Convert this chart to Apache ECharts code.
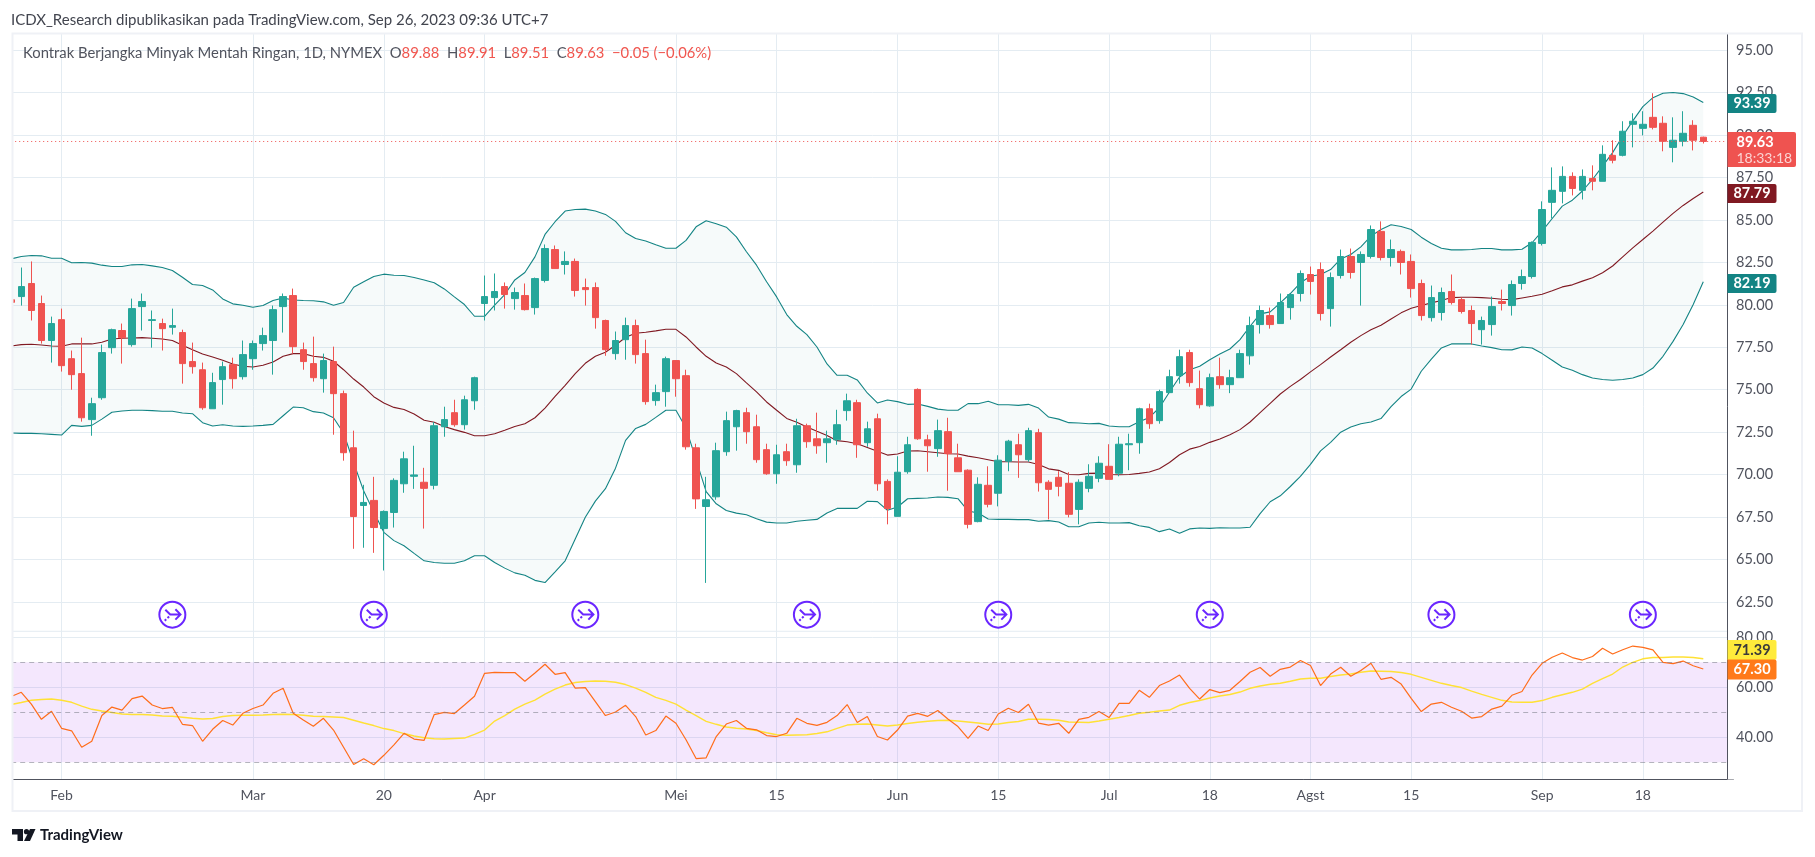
<!DOCTYPE html>
<html><head><meta charset="utf-8">
<style>html,body{margin:0;padding:0;background:#fff}#c{width:1815px;height:857px}</style>
<script src="https://cdn.jsdelivr.net/npm/echarts@6/dist/echarts.min.js"></script>
</head><body><div id="c"></div>
<script>
const categories=["01-25","01-26","01-27","01-30","01-31",
"02-01","02-02","02-03","02-06","02-07","02-08","02-09","02-10","02-13","02-14","02-15","02-16","02-17","02-21","02-22","02-23","02-24","02-27","02-28",
"03-01","03-02","03-03","03-06","03-07","03-08","03-09","03-10","03-13","03-14","03-15","03-16","03-17","03-20","03-21","03-22","03-23","03-24","03-27","03-28","03-29","03-30","03-31",
"04-03","04-04","04-05","04-06","04-10","04-11","04-12","04-13","04-14","04-17","04-18","04-19","04-20","04-21","04-24","04-25","04-26","04-27","04-28",
"05-01","05-02","05-03","05-04","05-05","05-08","05-09","05-10","05-11","05-12","05-15","05-16","05-17","05-18","05-19","05-22","05-23","05-24","05-25","05-26","05-30","05-31",
"06-01","06-02","06-05","06-06","06-07","06-08","06-09","06-12","06-13","06-14","06-15","06-16","06-20","06-21","06-22","06-23","06-26","06-27","06-28","06-29","06-30",
"07-03","07-05","07-06","07-07","07-10","07-11","07-12","07-13","07-14","07-17","07-18","07-19","07-20","07-21","07-24","07-25","07-26","07-27","07-28","07-31",
"08-01","08-02","08-03","08-04","08-07","08-08","08-09","08-10","08-11","08-14","08-15","08-16","08-17","08-18","08-21","08-22","08-23","08-24","08-25","08-28","08-29","08-30","08-31",
"09-01","09-05","09-06","09-07","09-08","09-11","09-12","09-13","09-14","09-15","09-18","09-19","09-20","09-21","09-22","09-25","09-26","+1","+2","+3"];
const tickLabels={"02-01":"Feb","03-01":"Mar","03-20":"20","04-03":"Apr","05-01":"Mei","05-15":"15","06-01":"Jun","06-15":"15","07-03":"Jul","07-18":"18","08-01":"Agst","08-15":"15","09-01":"Sep","09-18":"18"};
const eventDates=["02-16","03-17","04-18","05-18","06-15","07-18","08-18","09-18"];
const eventLevel=61.75;
const opens=[80.30,
80.49,81.26,80.08,77.90,79.13,76.83,75.95,73.24,74.53,77.48,
78.49,77.66,79.90,79.08,78.90,78.68,78.37,76.66,76.18,73.88,
75.60,76.48,75.77,76.83,77.72,77.90,79.90,80.55,77.36,76.54,
75.65,76.66,74.77,71.58,68.18,68.48,66.82,67.77,69.46,69.90,
69.55,69.37,72.82,73.65,72.94,74.35,80.08,80.43,81.08,80.37,
80.55,79.84,81.44,83.26,82.38,82.56,81.02,81.02,79.08,77.13,
77.95,78.78,77.13,74.36,74.89,76.72,75.83,71.58,68.12,68.69,
71.35,72.82,73.65,72.82,71.47,70.05,71.35,70.58,72.88,72.11,
71.88,72.05,73.77,74.24,71.88,73.29,69.60,67.54,70.17,75.02,
72.05,71.53,72.53,70.99,70.26,67.23,69.37,68.90,70.79,71.76,
70.88,72.47,69.55,69.84,69.49,67.95,69.19,69.78,70.49,70.08,
71.76,71.88,73.88,73.18,74.83,75.83,77.19,75.06,74.05,75.77,
75.30,75.71,77.00,78.84,79.37,78.90,79.84,80.67,81.79,82.08,
79.78,81.73,82.85,82.50,82.85,84.33,82.79,83.15,82.56,81.26,
79.25,79.55,80.79,80.31,79.67,78.54,78.84,80.20,79.96,81.26,
81.67,83.62,86.04,86.69,87.57,86.75,87.45,87.28,88.81,88.81,
90.64,90.40,91.05,90.70,89.28,89.64,90.58,89.88];
const closes=[80.15,
81.08,79.67,77.90,78.90,76.42,75.89,73.35,74.18,77.19,78.54,
78.07,79.78,80.20,79.13,78.60,78.78,76.54,76.36,73.94,75.42,
76.36,75.65,77.07,77.72,78.19,79.72,80.49,77.54,76.66,75.71,
76.72,74.77,71.29,67.53,68.36,66.88,67.83,69.66,70.93,69.98,
69.19,72.88,73.24,72.94,74.41,75.71,80.49,80.79,80.61,80.73,
79.72,81.55,83.32,82.14,82.56,80.85,80.90,79.25,77.36,77.90,
78.78,77.07,74.30,74.83,76.83,75.65,71.64,68.57,68.52,71.41,
73.18,73.77,72.53,70.88,70.05,71.17,70.82,72.88,71.94,71.70,
72.11,72.94,74.35,71.76,72.70,69.46,68.00,70.14,71.76,72.11,
71.70,72.59,71.23,70.17,67.07,69.43,68.25,70.85,71.97,71.17,
72.59,69.52,69.13,69.31,67.66,69.55,69.90,70.67,69.72,71.79,
71.82,73.88,73.00,74.89,75.77,76.95,75.42,74.12,75.71,75.30,
75.71,77.13,78.78,79.67,78.84,80.14,80.61,81.85,81.38,79.49,
81.61,82.85,81.91,82.97,84.44,82.79,83.26,82.50,80.96,79.37,
80.43,80.73,80.14,79.61,78.90,79.08,79.90,80.08,81.20,81.67,
83.68,85.62,86.75,87.57,86.86,87.57,87.28,88.87,88.52,90.23,
90.82,90.64,90.46,89.64,89.70,90.11,89.70,89.63];
const highs=[80.40,
82.20,82.56,80.55,79.31,79.78,77.31,78.07,74.53,77.66,78.60,
78.90,80.37,80.67,79.67,79.19,79.78,78.54,77.78,76.60,76.00,
76.66,76.89,77.90,77.90,78.66,79.96,80.67,80.96,77.78,78.13,
77.13,77.54,74.95,72.59,69.40,69.87,67.89,69.78,71.35,71.70,
70.40,73.10,74.00,74.41,74.65,75.77,81.73,81.85,81.32,81.02,
81.26,81.61,83.56,83.50,83.15,82.73,81.55,81.32,79.13,78.43,
79.25,79.13,77.95,75.30,76.95,76.72,76.18,71.82,69.87,71.88,
73.71,73.82,73.94,73.53,71.82,71.76,71.82,73.29,73.00,73.65,
72.59,73.82,74.77,74.41,73.12,73.59,69.72,71.08,72.23,75.08,
72.35,73.24,73.35,71.82,70.31,69.84,70.49,71.14,72.05,72.41,
72.76,72.70,69.67,70.20,70.14,69.72,70.61,71.08,71.79,72.23,
72.41,73.94,74.18,75.00,76.18,77.36,77.36,76.13,75.95,76.89,
76.18,77.36,79.31,79.96,79.84,80.67,80.61,82.03,82.26,82.50,
81.91,83.26,83.32,83.15,84.68,84.92,83.85,83.26,82.97,81.49,
81.14,81.02,81.79,80.43,79.96,79.31,80.49,80.90,81.44,82.08,
83.74,86.10,88.10,88.16,87.81,87.98,88.22,89.40,89.70,90.82,
91.29,91.41,92.47,91.11,91.05,91.41,90.88,89.91];
const lows=[80.05,
79.96,79.08,77.72,76.60,76.07,75.00,73.12,72.29,74.41,77.13,
76.54,77.54,78.49,77.48,77.31,78.25,75.36,75.95,73.82,73.88,
74.12,75.06,75.60,76.18,77.31,75.89,78.37,77.13,76.18,75.48,
74.83,72.35,70.82,65.63,65.69,65.39,64.35,66.88,68.93,69.16,
66.82,69.13,72.23,72.82,72.65,73.82,79.08,79.67,79.78,79.72,
79.67,79.43,81.32,82.14,81.79,80.49,79.96,78.60,77.00,76.77,
76.77,76.54,74.12,74.06,74.00,74.59,71.47,67.98,63.62,68.52,
71.11,71.41,71.82,70.70,69.99,69.46,70.52,70.11,71.58,71.23,
70.70,71.76,73.18,70.99,71.64,69.05,67.07,67.54,70.05,72.05,
70.17,71.05,69.05,70.17,66.83,67.19,68.07,68.13,70.20,69.81,
70.76,69.00,67.36,68.72,67.48,67.07,68.96,69.55,69.72,69.90,
70.26,71.23,72.70,73.00,74.83,75.36,75.18,73.90,74.00,75.06,
74.80,75.71,76.48,78.31,78.60,78.90,79.13,80.20,80.61,79.08,
78.72,81.55,81.55,79.96,82.73,82.62,82.26,81.79,80.43,79.08,
79.02,79.08,80.02,79.49,77.66,77.66,78.19,79.67,79.37,80.90,
81.55,83.50,85.09,85.98,86.45,86.21,86.75,87.28,88.34,88.75,
89.28,89.99,90.34,89.05,88.40,89.34,89.10,89.51];
const upperBand=[82.71,
82.85,82.91,82.89,82.75,82.75,82.48,82.50,82.46,82.34,82.26,
82.26,82.36,82.38,82.30,82.20,82.03,81.63,81.20,81.14,80.88,
80.35,80.06,79.98,79.86,79.96,80.26,80.41,80.29,80.26,80.24,
80.18,79.98,80.14,81.04,81.36,81.67,81.81,81.75,81.73,81.61,
81.47,81.30,80.94,80.47,80.02,79.33,79.33,79.98,80.61,81.47,
81.91,82.83,84.15,84.90,85.53,85.62,85.64,85.53,85.33,84.92,
84.25,83.91,83.76,83.54,83.34,83.34,83.80,84.60,84.96,84.78,
84.58,84.01,83.13,82.34,81.36,80.47,79.43,78.74,78.25,77.52,
76.52,75.85,75.85,75.58,74.81,74.22,74.40,74.30,74.14,74.16,
74.02,73.86,73.79,73.79,74.18,74.18,74.32,74.12,74.12,74.08,
74.14,73.92,73.39,73.27,73.06,73.04,73.00,73.02,72.86,72.82,
72.82,73.12,73.37,73.94,74.87,75.75,76.18,76.38,76.77,77.11,
77.40,77.95,78.74,79.47,79.59,80.12,80.67,81.30,81.69,81.79,
82.08,82.71,82.97,83.42,84.05,84.44,84.72,84.62,84.44,83.99,
83.62,83.34,83.24,83.24,83.26,83.32,83.32,83.24,83.24,83.28,
83.66,84.35,85.09,85.82,86.17,86.71,87.39,88.18,88.97,89.95,
90.84,91.68,92.21,92.47,92.51,92.45,92.25,91.92];
const basisLine=[77.58,
77.66,77.68,77.64,77.58,77.56,77.70,77.70,77.70,77.80,77.99,
78.03,78.05,78.07,78.03,77.99,77.90,77.62,77.36,77.11,76.93,
76.74,76.52,76.38,76.34,76.44,76.64,76.97,77.13,77.13,76.97,
76.91,76.68,76.18,75.63,75.16,74.59,74.22,73.96,73.84,73.57,
73.20,73.08,72.84,72.65,72.49,72.29,72.29,72.41,72.61,72.84,
73.00,73.35,73.92,74.61,75.26,75.95,76.56,76.97,77.21,77.62,
78.09,78.33,78.39,78.47,78.56,78.56,78.11,77.52,76.97,76.58,
76.34,75.95,75.40,74.87,74.28,73.79,73.31,73.08,72.80,72.55,
72.31,72.00,71.94,71.82,71.60,71.37,71.15,71.21,71.39,71.41,
71.35,71.29,71.23,71.21,71.09,70.99,70.88,70.76,70.76,70.74,
70.74,70.60,70.34,70.25,70.01,69.99,70.07,70.09,70.01,69.99,
70.01,70.07,70.15,70.34,70.71,71.17,71.50,71.66,71.90,72.10,
72.35,72.65,73.10,73.65,74.20,74.75,75.20,75.60,76.05,76.48,
76.93,77.36,77.80,78.19,78.54,78.80,79.17,79.53,79.80,79.96,
80.12,80.26,80.43,80.45,80.45,80.43,80.39,80.33,80.31,80.41,
80.51,80.63,80.83,81.06,81.18,81.40,81.60,81.89,82.29,82.83,
83.36,83.85,84.35,84.88,85.39,85.86,86.27,86.65];
const lowerBand=[72.45,
72.43,72.43,72.41,72.37,72.33,72.90,72.84,72.90,73.27,73.67,
73.75,73.79,73.79,73.77,73.73,73.73,73.63,73.59,73.06,72.86,
72.94,72.86,72.84,72.86,72.90,72.96,73.47,73.98,73.94,73.71,
73.63,73.35,72.45,70.70,69.03,67.79,66.60,66.11,65.81,65.36,
64.92,64.82,64.78,64.78,64.92,65.22,65.22,64.82,64.49,64.21,
64.07,63.77,63.64,64.27,64.92,66.20,67.49,68.44,69.17,70.38,
72.02,72.72,72.96,73.37,73.79,73.79,72.74,70.87,69.00,68.28,
67.89,67.73,67.63,67.40,67.20,67.15,67.15,67.25,67.31,67.36,
67.74,68.01,68.01,68.01,68.43,68.41,67.90,68.09,68.58,68.60,
68.62,68.68,68.66,68.58,67.86,67.74,67.38,67.36,67.36,67.35,
67.35,67.25,67.29,67.21,66.93,66.93,67.15,67.19,67.15,67.15,
67.17,66.99,66.89,66.64,66.80,66.54,66.80,66.85,66.83,66.87,
66.85,66.85,66.90,67.70,68.40,68.75,69.30,69.90,70.60,71.40,
71.90,72.50,72.80,73.00,73.10,73.30,74.00,74.60,75.04,76.09,
76.81,77.46,77.70,77.70,77.70,77.58,77.48,77.36,77.35,77.52,
77.46,77.13,76.74,76.34,76.15,75.89,75.69,75.60,75.56,75.60,
75.69,75.89,76.28,76.97,77.85,78.84,80.02,81.36];
const rsiValues=[56.3,
58.0,53.3,47.2,50.4,43.6,42.6,36.0,38.4,48.7,52.1,
50.9,55.5,56.5,52.9,51.5,52.0,45.2,44.7,38.4,43.2,
46.7,44.9,49.6,51.5,52.9,57.6,59.6,49.6,46.9,44.4,
47.6,42.9,36.0,29.1,31.4,29.0,32.8,37.0,41.6,39.3,
38.8,49.1,50.0,49.5,52.9,56.4,65.6,66.0,65.9,65.9,
62.4,65.7,69.2,65.2,65.9,59.7,59.9,54.3,48.7,50.1,
52.8,48.3,40.9,42.7,48.5,45.6,39.0,31.5,31.8,40.3,
45.3,46.7,43.6,43.0,40.7,40.3,41.6,47.6,45.6,44.8,
46.0,48.7,53.1,45.9,48.3,40.3,38.9,42.9,48.5,49.6,
48.4,50.7,47.3,44.3,39.6,44.5,42.7,49.3,51.6,49.9,
53.2,45.7,44.9,45.6,41.6,47.2,48.0,50.3,47.9,53.6,
53.6,58.8,56.0,60.7,62.5,64.9,59.6,55.3,59.1,57.9,
58.8,62.3,66.0,67.9,64.4,67.2,68.1,70.7,68.7,60.7,
65.3,68.0,64.4,66.7,69.6,63.2,64.0,61.3,55.6,50.3,
53.3,54.0,52.0,50.4,47.7,48.3,51.3,52.5,56.8,58.3,
64.9,69.6,72.0,73.7,71.9,70.9,72.3,75.6,73.3,75.0,
76.5,76.0,75.0,70.0,69.5,70.5,68.6,67.3];
const rsiMa=[53.1,
53.9,54.8,55.1,55.3,54.8,54.0,52.5,51.2,50.5,49.9,
49.3,49.1,49.1,48.9,48.5,48.4,48.0,47.6,47.3,47.5,
48.3,48.7,48.8,48.8,48.9,49.1,49.2,49.1,48.8,48.4,
48.3,48.1,47.9,46.8,45.7,44.7,43.5,42.7,41.5,40.5,
39.8,39.4,39.3,39.5,39.7,41.2,42.9,46.5,48.7,51.3,
53.3,54.9,57.3,59.3,60.9,61.9,62.3,62.5,62.4,62.0,
61.1,59.7,58.0,56.0,54.8,53.3,50.9,48.7,46.4,45.2,
44.1,43.6,43.3,42.7,41.8,41.0,40.8,40.9,41.0,41.5,
42.2,43.6,44.9,45.2,45.3,44.9,44.5,44.9,45.5,46.0,
46.4,46.7,46.8,46.5,46.1,45.7,45.2,45.3,45.9,46.3,
47.2,47.2,47.1,46.8,46.1,46.0,45.9,46.5,47.2,47.9,
48.7,49.6,50.0,50.5,50.9,52.8,53.9,54.7,55.7,56.5,
57.1,58.1,59.6,60.5,61.2,61.6,62.4,63.3,63.6,63.6,
64.3,64.9,65.3,66.0,66.5,66.4,66.3,65.9,65.2,64.0,
62.8,61.6,60.7,59.9,58.5,57.2,56.0,54.8,54.1,54.0,
54.0,54.7,56.0,57.0,58.0,59.3,61.6,63.5,65.3,68.1,
70.0,71.4,71.9,71.9,72.1,72.1,71.9,71.4];

const FONT='Lato,sans-serif';
const GRIDC='#e4ecf2', UP='#26a69a', DOWN='#ef5350', TEAL='#138484', MAROON='#801922', TXT='#50535e';
const L=11.2,R=1733.5,AX=1727.5;
const isLabelled=(i,v)=>tickLabels[v]!==undefined;
const candleData=opens.map((o,i)=>[o,closes[i],lows[i],highs[i]]);
const bandWidthVals=upperBand.map((u,i)=>+(u-lowerBand[i]).toFixed(2));
const eventPath='path://M13 1A12 12 0 1 1 12.99 1ZM6.5 8.5L11 12.8H20.5M15.8 8L20.5 12.8L15.8 17.6M10 14.8L8.5 16.2M7.3 17.3L6 18.6';
const gridBase={left:L,width:R-L};
function tag(txt,y,h,bg,fg,w){return [
 {type:'rect',z:10,silent:true,shape:{x:AX,y:y,width:w||49,height:h,r:[0,2,2,0]},style:{fill:bg}},
 {type:'text',z:11,silent:true,style:{x:AX+(w||49)/2-(w?9:0),y:y+h/2,text:txt,fill:fg,font:'700 14.5px '+FONT,align:'center',verticalAlign:'middle'}}];}
const chart=echarts.init(document.getElementById('c'),null,{renderer:'canvas',width:1815,height:857});
chart.setOption({
 animation:false,backgroundColor:'#fff',
 grid:[
  {...gridBase,top:33.5,height:745.5},
  {...gridBase,top:50.3,height:551.6},
  {...gridBase,top:637.3,height:150}
 ],
 xAxis:[
  {type:'category',gridIndex:0,data:categories,boundaryGap:false,position:'bottom',
   axisLine:{show:true,lineStyle:{color:'#50535e',width:1}},axisTick:{show:false},
   axisLabel:{interval:isLabelled,formatter:v=>tickLabels[v]||'',color:TXT,fontFamily:FONT,fontSize:14,margin:9,hideOverlap:false},
   splitLine:{show:true,interval:isLabelled,lineStyle:{color:GRIDC,width:1}}},
  {type:'category',gridIndex:1,data:categories,boundaryGap:false,show:false},
  {type:'category',gridIndex:2,data:categories,boundaryGap:false,show:false}
 ],
 yAxis:[
  {type:'value',gridIndex:0,min:0,max:1,show:false,splitLine:{show:false}},
  {type:'value',gridIndex:1,position:'right',min:62.5,max:95,interval:2.5,
   axisLine:{show:false},axisTick:{show:false},
   axisLabel:{formatter:v=>v.toFixed(2),color:TXT,fontFamily:FONT,fontSize:14.5,margin:2.5},
   splitLine:{show:true,lineStyle:{color:GRIDC,width:1}}},
  {type:'value',gridIndex:2,position:'right',min:20,max:80,interval:20,
   axisLine:{show:false},axisTick:{show:false},
   axisLabel:{formatter:v=>v.toFixed(2),color:TXT,fontFamily:FONT,fontSize:14.5,margin:2.5,showMinLabel:false},
   splitLine:{show:true,showMinLine:false,lineStyle:{color:GRIDC,width:1}}}
 ],
 series:[
  {name:'bbBase',type:'line',xAxisIndex:1,yAxisIndex:1,stack:'bb',data:lowerBand,symbol:'none',lineStyle:{width:0},silent:true,z:1},
  {name:'bbFill',type:'line',xAxisIndex:1,yAxisIndex:1,stack:'bb',data:bandWidthVals,symbol:'none',lineStyle:{width:0},areaStyle:{color:'rgba(19,132,132,0.055)'},silent:true,z:1},
  {name:'Upper',type:'line',xAxisIndex:1,yAxisIndex:1,data:upperBand,symbol:'none',lineStyle:{color:TEAL,width:1.1},z:2},
  {name:'Lower',type:'line',xAxisIndex:1,yAxisIndex:1,data:lowerBand,symbol:'none',lineStyle:{color:TEAL,width:1.1},z:2},
  {name:'Basis',type:'line',xAxisIndex:1,yAxisIndex:1,data:basisLine,symbol:'none',lineStyle:{color:MAROON,width:1.1},z:2},
  {name:'CL1',type:'candlestick',xAxisIndex:1,yAxisIndex:1,data:candleData,barWidth:7,z:3,
   itemStyle:{color:UP,color0:DOWN,borderColor:UP,borderColor0:DOWN,borderWidth:1},
   markLine:{silent:true,symbol:'none',label:{show:false},lineStyle:{color:DOWN,type:[1,3],width:1},data:[{yAxis:closes[closes.length-1]}]}},
  {name:'Events',type:'scatter',xAxisIndex:1,yAxisIndex:1,data:eventDates.map(d=>[d,eventLevel]),symbol:eventPath,symbolSize:26,clip:false,z:4,
   itemStyle:{color:'rgba(0,0,0,0)',borderColor:'#6a26ff',borderWidth:2,opacity:1}},
  {name:'RSI',type:'line',xAxisIndex:2,yAxisIndex:2,data:rsiValues,symbol:'none',lineStyle:{color:'#ff6d1a',width:1.2},z:3,
   markArea:{silent:true,itemStyle:{color:'rgba(156,39,240,0.11)'},data:[[{yAxis:70},{yAxis:30}]]},
   markLine:{silent:true,symbol:'none',label:{show:false},lineStyle:{color:'rgba(120,123,134,0.55)',type:[5,4],width:1},data:[{yAxis:70},{yAxis:50},{yAxis:30}]}},
  {name:'RSI MA',type:'line',xAxisIndex:2,yAxisIndex:2,data:rsiMa,symbol:'none',lineStyle:{color:'#ffe135',width:1.4},z:2}
 ],
 graphic:{elements:[
  {type:'rect',z:6,silent:true,shape:{x:AX,y:33.5,width:R-AX+1,height:746},style:{fill:'#fff'}},
  {type:'rect',z:6,silent:true,shape:{x:0,y:33,width:12.5,height:750},style:{fill:'#fff'}},
  {type:'line',z:7,silent:true,shape:{x1:AX,y1:33.5,x2:AX,y2:779},style:{stroke:'#50535e',lineWidth:1}},
  {type:'rect',z:7,silent:true,shape:{x:12.5,y:33.5,width:1789.5,height:777.5},style:{fill:'none',stroke:'#eff1f6',lineWidth:2}},
  {type:'line',z:1,silent:true,shape:{x1:13,y1:631.3,x2:AX,y2:631.3},style:{stroke:GRIDC,lineWidth:1}},
  {type:'text',z:8,silent:true,style:{x:11,y:20,text:'ICDX_Research dipublikasikan pada TradingView.com, Sep 26, 2023 09:36 UTC+7',fill:'#42454f',font:'15px '+FONT,verticalAlign:'middle'}},
  {type:'text',z:8,silent:true,style:{x:23,y:53,font:'14.8px '+FONT,verticalAlign:'middle',
    text:'{g|Kontrak Berjangka Minyak Mentah Ringan, 1D, NYMEX}  {g|O}{r|89.88}  {g|H}{r|89.91}  {g|L}{r|89.51}  {g|C}{r|89.63}  {r|−0.05 (−0.06%)}',
    rich:{g:{fill:'#50535e',font:'14.8px '+FONT},r:{fill:'#f0564f',font:'14.8px '+FONT}}}},
  ...tag('93.39',94,19,TEAL,'#fff'),
  {type:'rect',z:10,silent:true,shape:{x:AX,y:132,width:68.5,height:35,r:[0,2,2,0]},style:{fill:DOWN}},
  {type:'text',z:11,silent:true,style:{x:AX+9,y:142,text:'89.63',fill:'#fff',font:'700 14.5px '+FONT,verticalAlign:'middle'}},
  {type:'text',z:11,silent:true,style:{x:AX+9,y:158,text:'18:33:18',fill:'rgba(255,255,255,0.75)',font:'14px '+FONT,verticalAlign:'middle'}},
  ...tag('87.79',184,19,MAROON,'#fff'),
  ...tag('82.19',274,19,TEAL,'#fff'),
  ...tag('71.39',640,20,'#ffeb3b','#3a3a3a'),
  ...tag('67.30',659.5,20,'#ff7a1a','#fff'),
  {type:'polygon',z:8,silent:true,shape:{points:[[12,829],[23,829],[23,841],[17.5,841],[17.5,834.5],[12,834.5]]},style:{fill:'#131722'}},
  {type:'circle',z:8,silent:true,shape:{cx:26.5,cy:831.7,r:2.6},style:{fill:'#131722'}},
  {type:'polygon',z:8,silent:true,shape:{points:[[30,829],[35.5,829],[30,841],[24,841]]},style:{fill:'#131722'}},
  {type:'text',z:8,silent:true,style:{x:40,y:835,text:'TradingView',fill:'#131722',font:'700 15px '+FONT,verticalAlign:'middle'}}
 ]}
});
</script></body></html>
